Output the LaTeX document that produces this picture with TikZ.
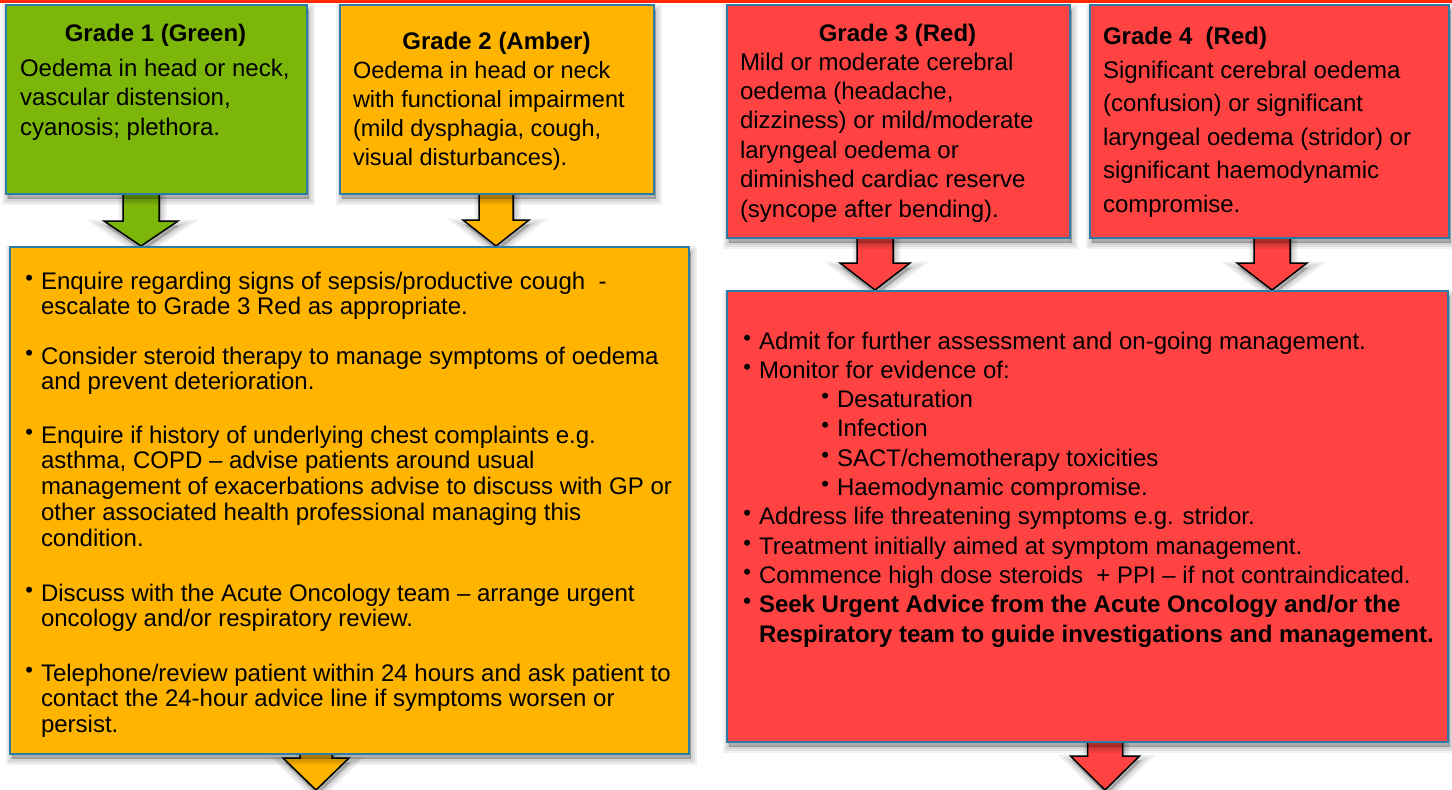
\documentclass[tikz,border=0pt]{standalone}
\usepackage{fontspec}
\setmainfont{Liberation Sans}
\usetikzlibrary{calc}

\definecolor{gradegreen}{RGB}{124,182,8}
\definecolor{gradeamber}{RGB}{255,180,0}
\definecolor{gradered}{RGB}{255,66,66}
\definecolor{boxedge}{RGB}{44,124,168}
\definecolor{topline}{RGB}{255,40,0}

\pgfdeclarelayer{paper}
\pgfdeclarelayer{back}
\pgfsetlayers{paper,back,main}

\tikzset{
  % soft shadow built from stacked translucent strokes
  shadowring/.style={preaction={draw=black, fill=black, line width=#1,
      opacity=0.06, transform canvas={shift={(1.5pt,-4.5pt)}}}},
  softshadow/.style={shadowring=12pt, shadowring=8pt, shadowring=4pt, shadowring=1pt},
  gradebox/.style={rectangle, draw=boxedge, line width=2pt, anchor=north west,
      inner sep=0pt, softshadow},
  txt/.style={anchor=base west, inner sep=0pt, outer sep=0pt},
  boxtitle/.style={anchor=base, inner sep=0pt, outer sep=0pt,
      font=\bfseries\fontsize{24}{24}\selectfont},
  arrowline/.style={draw=black, line width=1.5pt, line join=miter, softshadow}
}

% bullet hung to the left of the current position
\newcommand\bu{\llap{\raisebox{4pt}{\fontsize{22}{22}\selectfont\textbullet}\hspace{8pt}}}

% vertical block arrow: #1 start, #2 tip, #3 fill, #4 half shaft, #5 half head, #6 head length
\newcommand\blockarrow[6]{%
  \draw[arrowline, fill=#3] let \p1=(#1), \p2=(#2) in
    (\x1-#4,\y1+4pt) -- (\x1-#4,\y2+#6) -- (\x1-#5,\y2+#6) -- (\x1,\y2)
    -- (\x1+#5,\y2+#6) -- (\x1+#4,\y2+#6) -- (\x1+#4,\y1+4pt) -- cycle;}

\begin{document}
\begin{tikzpicture}[x=1pt, y=-1pt]
\useasboundingbox (0,0) rectangle (1452,790);
\begin{pgfonlayer}{paper}
\fill[white] (0,0) rectangle (1452,790);
\end{pgfonlayer}
\fill[topline] (0,0) rectangle (1452,3);

% grade boxes
\node[gradebox, fill=gradegreen, minimum width=301pt, minimum height=189pt] (g1) at (5,4) {};
\node[gradebox, fill=gradeamber, minimum width=314pt, minimum height=189pt] (g2) at (339,4) {};
\node[gradebox, fill=gradered, minimum width=343pt, minimum height=233pt] (g3) at (726,4) {};
\node[gradebox, fill=gradered, minimum width=359pt, minimum height=233pt] (g4) at (1089,4) {};

% action boxes
\node[gradebox, fill=gradeamber, minimum width=679pt, minimum height=507pt] (amber) at (9,246) {};
\node[gradebox, fill=gradered, minimum width=721pt, minimum height=451pt] (red) at (726,290) {};

% arrows
\path (g1.south) ++(-15.5,0) coordinate (a1s);
\path (g2.south) ++(-1,0) coordinate (a2s);
\path (g3.south) ++(-23.5,0) coordinate (a3s);
\path (g4.south) ++(2.5,0) coordinate (a4s);
\path (amber.south) ++(-33.5,0) coordinate (a5s);
\path (red.south) ++(17.5,0) coordinate (a6s);
\coordinate (pagefoot) at (0,790);
\begin{pgfonlayer}{back}
\blockarrow{a1s}{a1s |- amber.north}{gradegreen}{18pt}{37pt}{25pt}
\blockarrow{a2s}{a2s |- amber.north}{gradeamber}{17pt}{33pt}{26pt}
\blockarrow{a3s}{a3s |- red.north}{gradered}{18pt}{35pt}{27pt}
\blockarrow{a4s}{a4s |- red.north}{gradered}{18pt}{35pt}{27pt}
\blockarrow{a5s}{a5s |- pagefoot}{gradeamber}{16pt}{33pt}{32pt}
\blockarrow{a6s}{a6s |- pagefoot}{gradered}{17.5pt}{34.5pt}{34pt}
\end{pgfonlayer}

% grade 1
\node[boxtitle] (g1t) at (155.5,41) {Grade 1 (Green)};
\node[txt, font=\fontsize{24}{29.5}\selectfont] (g1b) at (20,76) {\vtop{%
  \hbox{Oedema in head or neck,}
  \hbox{vascular distension,}
  \hbox{cyanosis; plethora.}}};

% grade 2
\node[boxtitle] (g2t) at (496.5,49) {Grade 2 (Amber)};
\node[txt, font=\fontsize{23.5}{29.3}\selectfont] (g2b) at (353,78) {\vtop{%
  \hbox{Oedema in head or neck}
  \hbox{with functional impairment}
  \hbox{(mild dysphagia, cough,}
  \hbox{visual disturbances).}}};

% grade 3
\node[boxtitle] (g3t) at (897.5,41) {Grade 3 (Red)};
\node[txt, font=\fontsize{24}{29.4}\selectfont] (g3b) at (740,70) {\vtop{%
  \hbox{Mild or moderate cerebral}
  \hbox{oedema (headache,}
  \hbox{dizziness) or mild/moderate}
  \hbox{laryngeal oedema or}
  \hbox{diminished cardiac reserve}
  \hbox{(syncope after bending).}}};

% grade 4
\node[boxtitle, anchor=base west] (g4t) at (1103,44) {Grade 4\ \ (Red)};
\node[txt, font=\fontsize{24}{33.5}\selectfont] (g4b) at (1103,78) {\vtop{%
  \hbox{Significant cerebral oedema}
  \hbox{(confusion) or significant}
  \hbox{laryngeal oedema (stridor) or}
  \hbox{significant haemodynamic}
  \hbox{compromise.}}};

% amber actions
\tikzset{ambertxt/.style={txt, font=\fontsize{24}{25.8}\selectfont}}
\node[ambertxt] (p1) at (41,289) {\vtop{%
  \hbox{\bu Enquire regarding signs of sepsis/productive cough\ \ -}
  \hbox{escalate to Grade 3 Red as appropriate.}}};
\node[ambertxt] (p2) at (41,364) {\vtop{%
  \hbox{\bu Consider steroid therapy to manage symptoms of oedema}
  \hbox{and prevent deterioration.}}};
\node[ambertxt] (p3) at (41,443) {\vtop{%
  \hbox{\bu Enquire if history of underlying chest complaints e.g.}
  \hbox{asthma, COPD – advise patients around usual}
  \hbox{management of exacerbations advise to discuss with GP or}
  \hbox{other associated health professional managing this}
  \hbox{condition.}}};
\node[ambertxt] (p4) at (41,601) {\vtop{%
  \hbox{\bu Discuss with the Acute Oncology team – arrange urgent}
  \hbox{oncology and/or respiratory review.}}};
\node[ambertxt] (p5) at (41,681) {\vtop{%
  \hbox{\bu Telephone/review patient within 24 hours and ask patient to}
  \hbox{contact the 24-hour advice line if symptoms worsen or}
  \hbox{persist.}}};

% red actions
\node[txt, font=\fontsize{24}{29.3}\selectfont] (r1) at (759,349) {\vtop{%
  \hbox{\bu Admit for further assessment and on-going management.}
  \hbox{\bu Monitor for evidence of:}
  \hbox{\hspace{78pt}\bu Desaturation}
  \hbox{\hspace{78pt}\bu Infection}
  \hbox{\hspace{78pt}\bu SACT/chemotherapy toxicities}
  \hbox{\hspace{78pt}\bu Haemodynamic compromise.}
  \hbox{\bu Address life threatening symptoms e.g. stridor.}
  \hbox{\bu Treatment initially aimed at symptom management.}
  \hbox{\bu Commence high dose steroids\ \ + PPI – if not contraindicated.}
  \hbox{\bfseries\bu Seek Urgent Advice from the Acute Oncology and/or the}
  \hbox{\bfseries Respiratory team to guide investigations and management.}}};
\end{tikzpicture}
\end{document}
